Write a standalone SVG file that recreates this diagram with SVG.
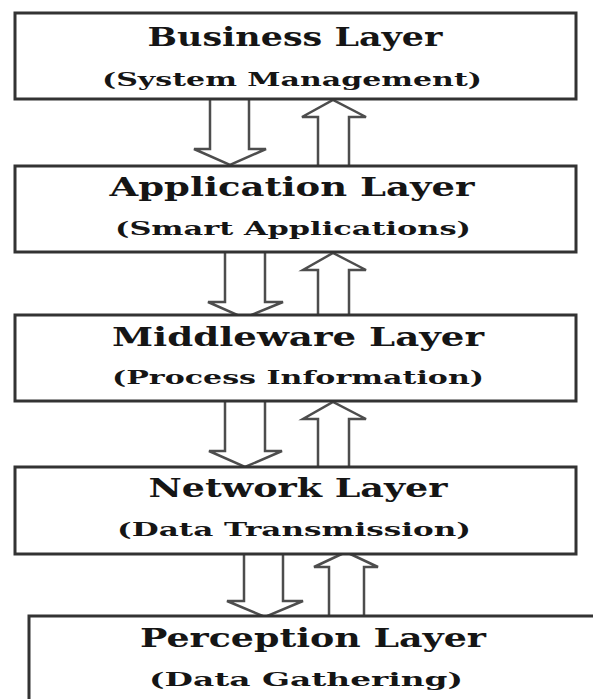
<svg xmlns="http://www.w3.org/2000/svg" width="593" height="699" viewBox="0 0 593 699">
<style>
.box{fill:#fff;stroke:#333;stroke-width:3}
.arr{fill:#fff;stroke:#4d4d4d;stroke-width:2.5;stroke-linejoin:miter}
.t{font-family:"DejaVu Serif","Liberation Serif",serif;font-weight:bold;fill:#151515;text-anchor:middle}
.h{font-size:26px}
.s{font-size:19px}
</style>
<rect width="593" height="699" fill="#fff"/>
<g id="connectors">
<path class="arr" d="M210,100 V149 H194 L230,165 L266,149 H249 V100"/>
<path class="arr" d="M318,165 V117 H302 L333,100 L366,117 H349 V165"/>
<path class="arr" d="M225,253 V302 H208 L244,318 L283,302 H265 V253"/>
<path class="arr" d="M318,315 V270 H303 L333,253 L366,270 H349 V315"/>
<path class="arr" d="M225,401 V451 H209 L245,467 L282,451 H265 V401"/>
<path class="arr" d="M318,467 V419 H303 L333,402 L366,419 H349 V467"/>
<path class="arr" d="M244,555 V601 H227 L265,617 L303,601 H283 V555"/>
<path class="arr" d="M329,616 V567 H314 L346,552 L378,567 H364 V616"/>
</g>
<g id="business">
<rect class="box" x="15" y="13" width="561" height="86"/>
<text class="t h" x="295" y="46" textLength="295" lengthAdjust="spacingAndGlyphs">Business Layer</text>
<text class="t s" x="292" y="86" textLength="380" lengthAdjust="spacingAndGlyphs">(System Management)</text>
</g>
<g id="application">
<rect class="box" x="15" y="166" width="561" height="86"/>
<text class="t h" x="292" y="196" textLength="365" lengthAdjust="spacingAndGlyphs">Application Layer</text>
<text class="t s" x="293" y="235" textLength="356" lengthAdjust="spacingAndGlyphs">(Smart Applications)</text>
</g>
<g id="middleware">
<rect class="box" x="15" y="315" width="561" height="86"/>
<text class="t h" x="298" y="346" textLength="372" lengthAdjust="spacingAndGlyphs">Middleware Layer</text>
<text class="t s" x="298" y="384" textLength="372" lengthAdjust="spacingAndGlyphs">(Process Information)</text>
</g>
<g id="network">
<rect class="box" x="15" y="467" width="561" height="87"/>
<text class="t h" x="298" y="497" textLength="299" lengthAdjust="spacingAndGlyphs">Network Layer</text>
<text class="t s" x="294" y="536" textLength="354" lengthAdjust="spacingAndGlyphs">(Data Transmission)</text>
</g>
<g id="perception">
<rect class="box" x="29" y="616" width="580" height="100"/>
<text class="t h" x="313" y="647" textLength="346" lengthAdjust="spacingAndGlyphs">Perception Layer</text>
<text class="t s" x="306" y="686" textLength="314" lengthAdjust="spacingAndGlyphs">(Data Gathering)</text>
</g>
</svg>
